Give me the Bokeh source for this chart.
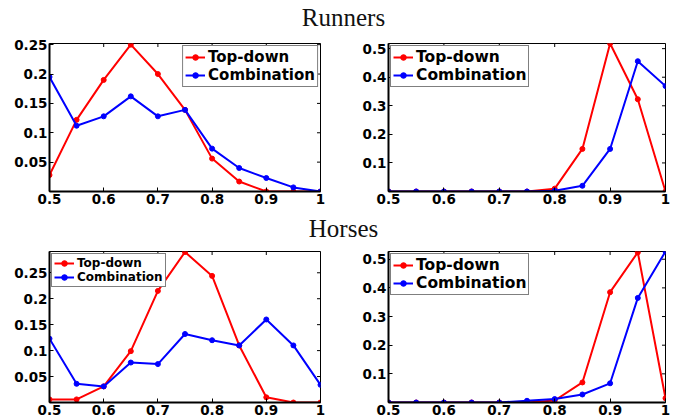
import math
from bokeh.plotting import figure
from bokeh.models import Range1d, FixedTicker, LinearAxis, Legend, LegendItem, Label
from bokeh.layouts import column, row
from bokeh.embed import file_html
from bokeh.resources import INLINE

# ---- data ----
thresholds = [0.5, 0.55, 0.6, 0.65, 0.7, 0.75, 0.8, 0.85, 0.9, 0.95, 1.0]
series_names = ["Top-down", "Combination"]
panel_titles = ["Runners", "Horses"]

runners_left_topdown = [0.028, 0.122, 0.19, 0.25, 0.2, 0.139, 0.056, 0.017, 0.0, 0.0, 0.0]
runners_left_combination = [0.195, 0.112, 0.128, 0.162, 0.128, 0.139, 0.073, 0.040, 0.023, 0.007, 0.0]
runners_right_topdown = [0.0, 0.0, 0.0, 0.0, 0.0, 0.0, 0.01, 0.149, 0.518, 0.323, 0.0]
runners_right_combination = [0.0, 0.0, 0.0, 0.0, 0.0, 0.0, 0.003, 0.02, 0.149, 0.456, 0.369]
horses_left_topdown = [0.006, 0.006, 0.031, 0.099, 0.215, 0.29, 0.244, 0.11, 0.01, 0.0, 0.0]
horses_left_combination = [0.123, 0.036, 0.031, 0.077, 0.074, 0.132, 0.12, 0.11, 0.16, 0.11, 0.034]
horses_right_topdown = [0.0, 0.0, 0.0, 0.0, 0.0, 0.0, 0.007, 0.07, 0.385, 0.524, 0.015]
horses_right_combination = [0.0, 0.0, 0.0, 0.0, 0.0, 0.006, 0.012, 0.028, 0.067, 0.365, 0.527]

x_ticks = [0.5, 0.6, 0.7, 0.8, 0.9, 1.0]
x_tick_labels = ["0.5", "0.6", "0.7", "0.8", "0.9", "1"]
y_ticks_small = [0.05, 0.1, 0.15, 0.2, 0.25]
y_tick_labels_small = ["0.05", "0.1", "0.15", "0.2", "0.25"]
y_ticks_large = [0.1, 0.2, 0.3, 0.4, 0.5]
y_tick_labels_large = ["0.1", "0.2", "0.3", "0.4", "0.5"]

TICK_FONT = "DejaVu Sans"


def style_axis(ax):
    ax.axis_line_color = "black"
    ax.axis_line_width = 2
    ax.major_tick_in = 4
    ax.major_tick_out = 0
    ax.major_tick_line_color = "black"
    ax.minor_tick_in = 0
    ax.minor_tick_out = 0
    ax.major_label_standoff = 2
    ax.major_label_text_font = TICK_FONT
    ax.major_label_text_font_style = "bold"
    ax.major_label_text_font_size = "13.5px"
    ax.major_label_text_color = "black"


def make_panel(width, height, left, right, top, bottom, y_top, y_ticks, y_labels,
               td, comb, legend_loc, legend_font):
    p = figure(width=width, height=height, output_backend="svg", toolbar_location=None,
               x_range=Range1d(0.5, 1.0), y_range=Range1d(0, y_top),
               min_border_left=left, min_border_right=right,
               min_border_top=top, min_border_bottom=bottom,
               x_axis_type=None, y_axis_type=None)
    p.outline_line_color = "black"
    p.outline_line_width = 1
    p.background_fill_color = "white"
    p.border_fill_color = "white"

    xb = LinearAxis(ticker=FixedTicker(ticks=x_ticks),
                    major_label_overrides=dict(zip(x_ticks, x_tick_labels)))
    style_axis(xb)
    p.add_layout(xb, "below")
    yl = LinearAxis(ticker=FixedTicker(ticks=y_ticks),
                    major_label_overrides=dict(zip(y_ticks, y_labels)))
    style_axis(yl)
    p.add_layout(yl, "left")

    # small inward ticks on the top and right edges of the box
    p.scatter(x_ticks, [y_top] * len(x_ticks), marker="dash", angle=math.pi / 2,
              size=7, line_color="black", line_width=1)
    p.scatter([1.0] * len(y_ticks), y_ticks, marker="dash",
              size=7, line_color="black", line_width=1)

    l1 = p.line(thresholds, td, line_color="#ff0000", line_width=2)
    s1 = p.scatter(thresholds, td, size=5, fill_color="#ff0000", line_color="#ff0000")
    l2 = p.line(thresholds, comb, line_color="#0000ff", line_width=2)
    s2 = p.scatter(thresholds, comb, size=5, fill_color="#0000ff", line_color="#0000ff")

    legend = Legend(items=[LegendItem(label=series_names[0], renderers=[l1, s1]),
                           LegendItem(label=series_names[1], renderers=[l2, s2])],
                    location=legend_loc)
    legend.border_line_color = "black"
    legend.border_line_width = 1
    legend.background_fill_color = "white"
    legend.background_fill_alpha = 1
    legend.label_text_font = TICK_FONT
    legend.label_text_font_style = "bold"
    legend.label_text_font_size = legend_font
    legend.label_text_line_height = 1.0
    legend.label_text_color = "black"
    legend.padding = 2
    legend.spacing = 0
    legend.margin = 2
    legend.glyph_width = 20
    legend.glyph_height = 14
    legend.label_height = 14
    legend.label_standoff = 3
    p.add_layout(legend)
    return p


def make_title(text, height, baseline):
    t = figure(width=674, height=height, output_backend="svg", toolbar_location=None,
               x_range=Range1d(0, 674), y_range=Range1d(0, height),
               min_border=0, x_axis_type=None, y_axis_type=None)
    t.outline_line_color = None
    t.background_fill_color = "white"
    t.border_fill_color = "white"
    t.add_layout(Label(x=343, y=baseline, text=text, text_align="center",
                       text_baseline="alphabetic", text_font="Liberation Serif",
                       text_font_size="25px", text_color="#111111"))
    return t


title1 = make_title(panel_titles[0], 34, 17)
p1 = make_panel(340, 178, 49, 20, 9, 21, 0.252, y_ticks_small, y_tick_labels_small,
                runners_left_topdown, runners_left_combination, "top_right", "15px")
p2 = make_panel(334, 178, 48, 9, 6, 21, 0.518, y_ticks_large, y_tick_labels_large,
                runners_right_topdown, runners_right_combination, "top_left", "15.5px")
title2 = make_title(panel_titles[1], 32, 16)
p3 = make_panel(340, 175, 49, 20, 6, 17, 0.291, y_ticks_small, y_tick_labels_small,
                horses_left_topdown, horses_left_combination, "top_left", "12px")
p4 = make_panel(334, 175, 48, 9, 7, 17, 0.527, y_ticks_large, y_tick_labels_large,
                horses_right_topdown, horses_right_combination, "top_left", "15.5px")

layout = column(title1, row(p1, p2), title2, row(p3, p4))

open("out.html", "w").write(file_html(layout, INLINE))
